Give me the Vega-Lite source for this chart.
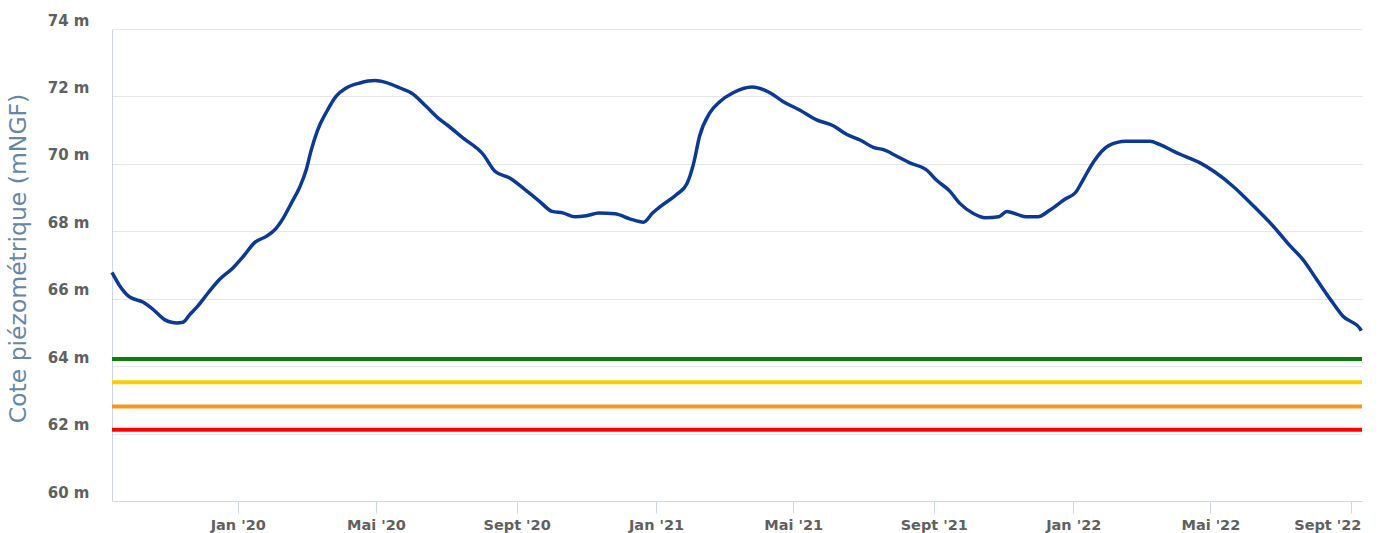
{
  "$schema": "https://vega.github.io/schema/vega-lite/v6.json",
  "width": 1250,
  "height": 472,
  "autosize": {"type": "none"},
  "padding": {"left": 112, "top": 29, "right": 18, "bottom": 32},
  "background": "white",
  "config": {"view": {"stroke": null}},
  "datasets": {
    "niveau": [
      {"date": "2019-09-13", "cote": 66.78},
      {"date": "2019-09-20", "cote": 66.37},
      {"date": "2019-09-28", "cote": 66.06},
      {"date": "2019-10-10", "cote": 65.9},
      {"date": "2019-10-19", "cote": 65.68},
      {"date": "2019-10-29", "cote": 65.38},
      {"date": "2019-11-04", "cote": 65.3},
      {"date": "2019-11-09", "cote": 65.28},
      {"date": "2019-11-14", "cote": 65.3},
      {"date": "2019-11-20", "cote": 65.53},
      {"date": "2019-11-27", "cote": 65.78},
      {"date": "2019-12-06", "cote": 66.17},
      {"date": "2019-12-16", "cote": 66.57},
      {"date": "2019-12-28", "cote": 66.92},
      {"date": "2020-01-06", "cote": 67.26},
      {"date": "2020-01-16", "cote": 67.67},
      {"date": "2020-01-26", "cote": 67.85},
      {"date": "2020-02-02", "cote": 68.03},
      {"date": "2020-02-10", "cote": 68.4},
      {"date": "2020-02-17", "cote": 68.84},
      {"date": "2020-02-24", "cote": 69.29},
      {"date": "2020-03-01", "cote": 69.83},
      {"date": "2020-03-05", "cote": 70.37},
      {"date": "2020-03-11", "cote": 71.01},
      {"date": "2020-03-19", "cote": 71.56},
      {"date": "2020-03-27", "cote": 72.0},
      {"date": "2020-04-05", "cote": 72.25},
      {"date": "2020-04-17", "cote": 72.4},
      {"date": "2020-04-30", "cote": 72.47},
      {"date": "2020-05-10", "cote": 72.41},
      {"date": "2020-05-22", "cote": 72.25},
      {"date": "2020-06-01", "cote": 72.1},
      {"date": "2020-06-14", "cote": 71.7},
      {"date": "2020-06-26", "cote": 71.31},
      {"date": "2020-07-02", "cote": 71.16},
      {"date": "2020-07-16", "cote": 70.77},
      {"date": "2020-08-03", "cote": 70.27},
      {"date": "2020-08-13", "cote": 69.78},
      {"date": "2020-08-26", "cote": 69.58},
      {"date": "2020-09-10", "cote": 69.19},
      {"date": "2020-09-21", "cote": 68.89},
      {"date": "2020-10-02", "cote": 68.59},
      {"date": "2020-10-12", "cote": 68.54},
      {"date": "2020-10-22", "cote": 68.43},
      {"date": "2020-11-01", "cote": 68.46},
      {"date": "2020-11-12", "cote": 68.54},
      {"date": "2020-11-26", "cote": 68.52},
      {"date": "2020-12-09", "cote": 68.37},
      {"date": "2020-12-21", "cote": 68.27},
      {"date": "2020-12-29", "cote": 68.54},
      {"date": "2021-01-07", "cote": 68.79},
      {"date": "2021-01-19", "cote": 69.09},
      {"date": "2021-01-28", "cote": 69.41},
      {"date": "2021-02-03", "cote": 70.03},
      {"date": "2021-02-08", "cote": 70.81},
      {"date": "2021-02-17", "cote": 71.51},
      {"date": "2021-02-26", "cote": 71.85},
      {"date": "2021-03-09", "cote": 72.1},
      {"date": "2021-03-26", "cote": 72.28},
      {"date": "2021-04-11", "cote": 72.1},
      {"date": "2021-04-22", "cote": 71.85},
      {"date": "2021-05-07", "cote": 71.59},
      {"date": "2021-05-21", "cote": 71.31},
      {"date": "2021-06-05", "cote": 71.13},
      {"date": "2021-06-17", "cote": 70.87},
      {"date": "2021-06-29", "cote": 70.7},
      {"date": "2021-07-10", "cote": 70.49},
      {"date": "2021-07-19", "cote": 70.42},
      {"date": "2021-07-31", "cote": 70.22},
      {"date": "2021-08-11", "cote": 70.03},
      {"date": "2021-08-26", "cote": 69.81},
      {"date": "2021-09-03", "cote": 69.53},
      {"date": "2021-09-15", "cote": 69.19},
      {"date": "2021-09-24", "cote": 68.82},
      {"date": "2021-10-06", "cote": 68.52},
      {"date": "2021-10-16", "cote": 68.4},
      {"date": "2021-10-28", "cote": 68.43},
      {"date": "2021-11-04", "cote": 68.59},
      {"date": "2021-11-13", "cote": 68.5},
      {"date": "2021-11-21", "cote": 68.43},
      {"date": "2021-12-01", "cote": 68.43},
      {"date": "2021-12-12", "cote": 68.64},
      {"date": "2021-12-25", "cote": 68.96},
      {"date": "2022-01-03", "cote": 69.15},
      {"date": "2022-01-10", "cote": 69.55},
      {"date": "2022-01-19", "cote": 70.07},
      {"date": "2022-02-01", "cote": 70.54},
      {"date": "2022-02-16", "cote": 70.67},
      {"date": "2022-03-09", "cote": 70.67},
      {"date": "2022-03-18", "cote": 70.57},
      {"date": "2022-03-30", "cote": 70.37},
      {"date": "2022-04-09", "cote": 70.22},
      {"date": "2022-04-22", "cote": 70.03},
      {"date": "2022-05-04", "cote": 69.78},
      {"date": "2022-05-21", "cote": 69.33},
      {"date": "2022-06-08", "cote": 68.74},
      {"date": "2022-06-25", "cote": 68.15},
      {"date": "2022-07-10", "cote": 67.56},
      {"date": "2022-07-21", "cote": 67.16},
      {"date": "2022-08-02", "cote": 66.57},
      {"date": "2022-08-14", "cote": 65.98},
      {"date": "2022-08-25", "cote": 65.48},
      {"date": "2022-09-09", "cote": 65.11},
      {"date": "2022-09-10", "cote": 65.05}
    ],
    "seuils": [
      {"seuil": "vert", "cote": 64.21, "couleur": "#0a7f0a"},
      {"seuil": "jaune", "cote": 63.52, "couleur": "#ffcc00"},
      {"seuil": "orange", "cote": 62.8, "couleur": "#f7981d"},
      {"seuil": "rouge", "cote": 62.11, "couleur": "#ff0000"}
    ]
  },
  "encoding": {
    "y": {
      "field": "cote",
      "type": "quantitative",
      "scale": {"domain": [60, 74], "nice": false, "zero": false},
      "axis": {
        "title": "Cote piézométrique (mNGF)",
        "titleFont": "DejaVu Sans",
        "titleFontSize": 23.5,
        "titleFontWeight": "normal",
        "titleColor": "#6686a6",
        "titleX": -94,
        "titleY": 229,
        "titleAngle": -90,
        "titleAlign": "center",
        "titleBaseline": "middle",
        "values": [60, 62, 64, 66, 68, 70, 72, 74],
        "labelExpr": "datum.value + ' m'",
        "labelFont": "DejaVu Sans",
        "labelFontWeight": "bold",
        "labelFontSize": 15,
        "labelColor": "#606060",
        "labelPadding": 23,
        "labelOffset": -9,
        "labelBaseline": "middle",
        "ticks": false,
        "domain": true,
        "domainColor": "#ccd6eb",
        "domainWidth": 1,
        "grid": true,
        "gridColor": "#e6e6e6",
        "gridWidth": 1
      }
    }
  },
  "layer": [
    {
      "data": {"name": "seuils"},
      "mark": {"type": "rule", "strokeWidth": 4},
      "encoding": {
        "color": {"field": "couleur", "type": "nominal", "scale": null, "legend": null}
      }
    },
    {
      "data": {"name": "niveau"},
      "mark": {"type": "line", "color": "#0b3a96", "strokeWidth": 3.5, "interpolate": "monotone"},
      "encoding": {
        "x": {
          "field": "date",
          "type": "temporal",
          "scale": {
            "type": "utc",
            "domain": [
              {"year": 2019, "month": 9, "date": 13, "utc": true},
              {"year": 2022, "month": 9, "date": 10, "hours": 16, "utc": true}
            ]
          },
          "axis": {
            "title": null,
            "values": [
              {"year": 2020, "month": 1, "date": 1, "utc": true},
              {"year": 2020, "month": 5, "date": 1, "utc": true},
              {"year": 2020, "month": 9, "date": 1, "utc": true},
              {"year": 2021, "month": 1, "date": 1, "utc": true},
              {"year": 2021, "month": 5, "date": 1, "utc": true},
              {"year": 2021, "month": 9, "date": 1, "utc": true},
              {"year": 2022, "month": 1, "date": 1, "utc": true},
              {"year": 2022, "month": 5, "date": 1, "utc": true},
              {"year": 2022, "month": 9, "date": 1, "utc": true}
            ],
            "labelExpr": "(utcmonth(datum.value) == 0 ? 'Jan' : utcmonth(datum.value) == 4 ? 'Mai' : 'Sept') + \" '\" + utcFormat(datum.value, '%y')",
            "labelFont": "DejaVu Sans",
            "labelFontWeight": "bold",
            "labelFontSize": 14.5,
            "labelColor": "#606060",
            "labelPadding": 5,
            "labelAlign": {
              "condition": {"test": "utcyear(datum.value) == 2022 && utcmonth(datum.value) == 8", "value": "right"},
              "value": "center"
            },
            "labelOffset": {
              "condition": {"test": "utcyear(datum.value) == 2022 && utcmonth(datum.value) == 8", "value": 10},
              "value": 0
            },
            "tickSize": 12,
            "tickColor": "#ccd6eb",
            "domainColor": "#ccd6eb",
            "grid": false
          }
        }
      }
    }
  ]
}
